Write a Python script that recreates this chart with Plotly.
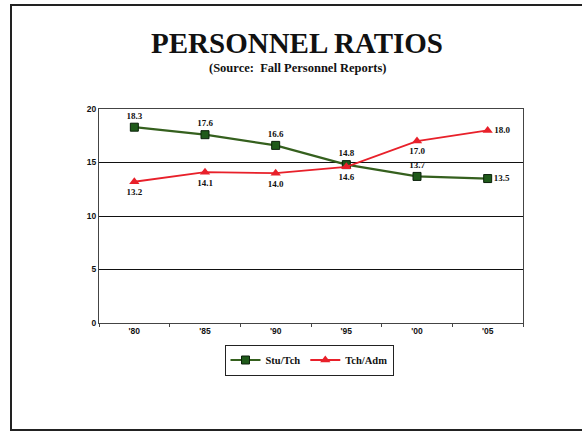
import plotly.graph_objects as go

years = ["'80", "'85", "'90", "'95", "'00", "'05"]
stu_tch = [18.3, 17.6, 16.6, 14.8, 13.7, 13.5]
tch_adm = [13.2, 14.1, 14.0, 14.6, 17.0, 18.0]

stu_pos = ["top center"] * 5 + ["middle right"]
adm_pos = ["bottom center"] * 5 + ["middle right"]

W, H = 582, 433
L, R, T, B = 99, 523, 109, 323

label_font = dict(family="Liberation Serif", size=9, color="#111")

fig = go.Figure()
fig.add_trace(go.Scatter(
    x=years, y=stu_tch, name="<b>Stu/Tch</b>", mode="lines+markers+text",
    line=dict(color="#35601E", width=2.2),
    marker=dict(symbol="square", size=8, color="#1F5A1A",
                line=dict(color="#0A200A", width=1)),
    text=[f"<b>{v:.1f}</b>" for v in stu_tch], textposition=stu_pos,
    textfont=label_font, cliponaxis=False,
))
fig.add_trace(go.Scatter(
    x=years, y=tch_adm, name="<b>Tch/Adm</b>", mode="lines+markers+text",
    line=dict(color="#E8202A", width=1.8),
    marker=dict(symbol="triangle-up", size=9, color="#E8202A"),
    text=[f"<b>{v:.1f}</b>" for v in tch_adm], textposition=adm_pos,
    textfont=label_font, cliponaxis=False,
))

def px(x):
    return (x - L) / (R - L)

def py(y):
    return (B - y) / (B - T)

fig.update_layout(
    width=W, height=H,
    margin=dict(l=L, r=W - R, t=T, b=H - B),
    paper_bgcolor="white", plot_bgcolor="white",
    font=dict(family="Liberation Sans", color="#111"),
    showlegend=True,
    legend=dict(
        orientation="h", x=px(309), y=py(360), xanchor="center", yanchor="middle",
        bordercolor="#222", borderwidth=1, bgcolor="white",
        font=dict(family="Liberation Serif", size=10.5, color="#111"),
        itemwidth=30, tracegroupgap=0,
    ),
    xaxis=dict(
        type="category", range=[-0.5, 5.5], tickson="boundaries",
        ticks="outside", ticklen=3, tickcolor="#444",
        showline=True, linecolor="#444", linewidth=1, mirror=True,
        showgrid=False, zeroline=False,
        tickvals=years, ticktext=[f"<b>{y}</b>" for y in years],
        tickfont=dict(family="Liberation Sans", size=8.5, color="#111"),
    ),
    yaxis=dict(
        range=[0, 20], tickvals=[0, 5, 10, 15, 20],
        ticktext=["<b>0</b>", "<b>5</b>", "<b>10</b>", "<b>15</b>", "<b>20</b>"],
        ticks="", showline=True, linecolor="#444", linewidth=1, mirror=True,
        showgrid=True, gridcolor="#111", gridwidth=1, zeroline=False,
        tickfont=dict(family="Liberation Sans", size=8.5, color="#111"),
    ),
    annotations=[
        dict(text="<b>PERSONNEL RATIOS</b>", xref="paper", yref="paper",
             x=px(297), y=py(43), xanchor="center", yanchor="middle",
             showarrow=False,
             font=dict(family="Liberation Serif", size=29, color="#111")),
        dict(text="<b>(Source:  Fall Personnel Reports)</b>", xref="paper", yref="paper",
             x=px(298), y=py(68), xanchor="center", yanchor="middle",
             showarrow=False,
             font=dict(family="Liberation Serif", size=12.5, color="#111")),
    ],
    shapes=[
        dict(type="rect", xref="paper", yref="paper",
             x0=px(11), x1=px(600), y0=py(430), y1=py(5),
             line=dict(color="#222", width=2), layer="below"),
    ],
)

fig.write_html("out.html")
